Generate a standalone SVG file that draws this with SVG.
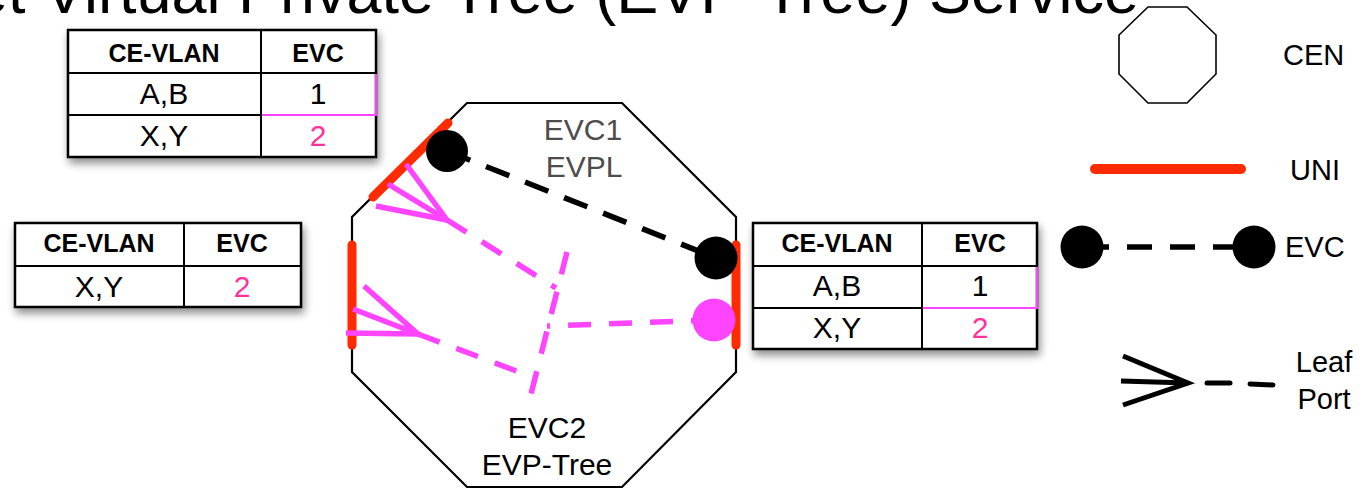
<svg xmlns="http://www.w3.org/2000/svg" width="1369" height="489" viewBox="0 0 1369 489">
<defs>
<filter id="sh" x="-10%" y="-10%" width="130%" height="140%">
<feDropShadow dx="2" dy="5" stdDeviation="4" flood-color="#000" flood-opacity="0.45"/>
</filter>
<style>
text{font-family:"Liberation Sans",Arial,sans-serif}
.hd{font-weight:bold;font-size:25px;text-anchor:middle;fill:#000}
.td{font-size:30px;text-anchor:middle;fill:#000}
.p2{fill:#ff3399}
.tbl{fill:#fff;stroke:#000;stroke-width:2.5}
.ln{stroke:#000;stroke-width:2;fill:none}
.pk{stroke:#ff44ff;stroke-width:2;fill:none}
.uni{stroke:#ff2a00;stroke-width:9;stroke-linecap:round;fill:none}
.bd{stroke:#000;stroke-width:5.5;stroke-dasharray:25 17;fill:none}
.pd{stroke:#ff44ff;stroke-width:5.5;stroke-dasharray:23 18;fill:none}
.leaf{stroke:#ff44ff;stroke-width:5.5;fill:none}
.lbl{font-size:30px;text-anchor:middle}
.leg{font-size:29px}
</style>
</defs>
<rect width="1369" height="489" fill="#fff"/>
<text x="1139" y="13" font-size="63" text-anchor="end" fill="#000">Ethernet Virtual Private Tree (EVP-Tree) Service</text>

<g id="table-top">
<g filter="url(#sh)"><rect class="tbl" x="68" y="30" width="308" height="127"/></g>
<line class="ln" x1="261" y1="30" x2="261" y2="157"/>
<line class="ln" x1="68" y1="73" x2="376" y2="73"/>
<line class="ln" x1="68" y1="115" x2="376" y2="115"/>
<polyline class="pk" points="376,74 376,115 262,115"/>
<text class="hd" x="164" y="62">CE-VLAN</text>
<text class="hd" x="318" y="62">EVC</text>
<text class="td" x="164" y="104">A,B</text>
<text class="td" x="318" y="104">1</text>
<text class="td" x="164" y="146">X,Y</text>
<text class="td p2" x="318" y="146">2</text>
</g>

<g id="table-left">
<g filter="url(#sh)"><rect class="tbl" x="15" y="223" width="286" height="84"/></g>
<line class="ln" x1="184" y1="223" x2="184" y2="307"/>
<line class="ln" x1="15" y1="266" x2="301" y2="266"/>
<text class="hd" x="99" y="252">CE-VLAN</text>
<text class="hd" x="242" y="252">EVC</text>
<text class="td" x="99" y="297">X,Y</text>
<text class="td p2" x="242" y="297">2</text>
</g>

<g id="table-right">
<g filter="url(#sh)"><rect class="tbl" x="753" y="223" width="284" height="126"/></g>
<line class="ln" x1="922" y1="223" x2="922" y2="349"/>
<line class="ln" x1="753" y1="266" x2="1037" y2="266"/>
<line class="ln" x1="753" y1="308" x2="1037" y2="308"/>
<polyline class="pk" points="1037,267 1037,308 923,308"/>
<text class="hd" x="837" y="252">CE-VLAN</text>
<text class="hd" x="980" y="252">EVC</text>
<text class="td" x="837" y="296">A,B</text>
<text class="td" x="980" y="296">1</text>
<text class="td" x="837" y="338">X,Y</text>
<text class="td p2" x="980" y="338">2</text>
</g>

<g id="cen">
<polygon points="467,103 622,103 736,217 736,372 622,487 467,487 352,372 352,217" fill="#fff" stroke="#000" stroke-width="2.2"/>
<text class="lbl" x="583" y="140" fill="#4d4d4d">EVC1</text>
<text class="lbl" x="584" y="177" fill="#4d4d4d">EVPL</text>
<text class="lbl" x="547" y="438" fill="#000">EVC2</text>
<text class="lbl" x="547" y="475" fill="#000">EVP-Tree</text>
</g>

<g id="unis">
<line class="uni" x1="373" y1="197" x2="448" y2="123"/>
<line class="uni" x1="352" y1="245" x2="352" y2="345"/>
<line class="uni" x1="736" y1="245" x2="736" y2="345"/>
</g>

<g id="connectors">
<line class="bd" x1="447" y1="151" x2="716" y2="258"/>
<line class="pd" x1="714" y1="320" x2="547" y2="326"/>
<line class="pd" x1="567" y1="252" x2="530" y2="398"/>
<line class="pd" x1="447" y1="220" x2="556" y2="288"/>
<line class="pd" x1="418" y1="334" x2="535" y2="378"/>
<polyline class="leaf" points="406,164 447,220 388,184"/>
<line class="leaf" x1="376" y1="206" x2="447" y2="220"/>
<polyline class="leaf" points="364,286 418,334 353,309"/>
<line class="leaf" x1="346" y1="333" x2="418" y2="334"/>
</g>

<g id="evc-ends">
<circle cx="447" cy="151" r="21" fill="#000"/>
<circle cx="716" cy="258" r="21.5" fill="#000"/>
<circle cx="714" cy="320" r="21.5" fill="#ff44ff"/>
</g>

<g id="legend-cen">
<polygon points="1148,7 1187,7 1216,35 1216,74 1187,103 1148,103 1119,74 1119,35" fill="#fff" stroke="#000" stroke-width="1.6"/>
<text class="leg" x="1283" y="65">CEN</text>
</g>
<g id="legend-uni">
<line x1="1095" y1="169" x2="1241" y2="169" stroke="#ff2a00" stroke-width="10" stroke-linecap="round"/>
<text class="leg" x="1290" y="180">UNI</text>
</g>
<g id="legend-evc">
<line x1="1084" y1="247" x2="1254" y2="247" stroke="#000" stroke-width="5.5" stroke-dasharray="25 18"/>
<circle cx="1082" cy="247" r="21.5" fill="#000"/>
<circle cx="1254" cy="247" r="21.5" fill="#000"/>
<text class="leg" x="1285" y="257">EVC</text>
</g>
<g id="legend-leaf">
<polyline points="1123,356 1188,383 1123,405" fill="none" stroke="#000" stroke-width="5"/>
<line x1="1121" y1="381" x2="1188" y2="383" stroke="#000" stroke-width="5"/>
<line x1="1207" y1="383" x2="1230" y2="383" stroke="#000" stroke-width="5" stroke-linecap="round"/>
<line x1="1250" y1="384" x2="1273" y2="385" stroke="#000" stroke-width="5" stroke-linecap="round"/>
<text class="leg" x="1324" y="372" text-anchor="middle">Leaf</text>
<text class="leg" x="1324" y="409" text-anchor="middle">Port</text>
</g>
</svg>
